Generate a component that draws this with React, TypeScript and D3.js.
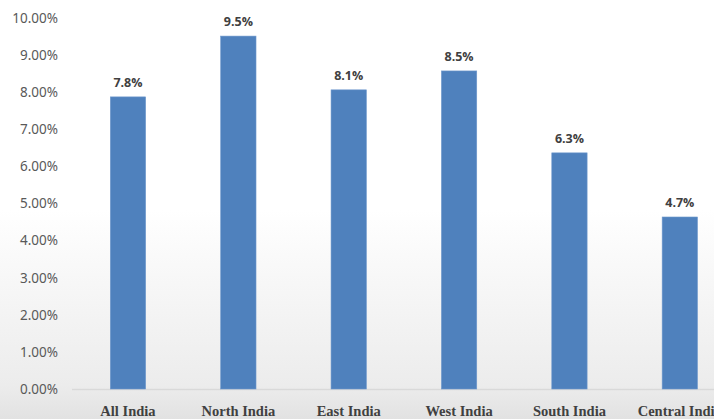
import React from "react";
import * as d3 from "d3";

const categories = ["All India", "North India", "East India", "West India", "South India", "Central India"];
const values = [7.88, 9.52, 8.07, 8.58, 6.37, 4.64];
const valueLabels = ["7.8%", "9.5%", "8.1%", "8.5%", "6.3%", "4.7%"];
const yTicks = [0, 1, 2, 3, 4, 5, 6, 7, 8, 9, 10];

const W = 714;
const H = 419;
const left = 72.8;
const plotRight = 735;
const top = 18.3;
const bottom = 389;

export default function App() {
  const x = d3.scaleBand<string>().domain(categories).range([left, plotRight]).paddingInner(0.68).paddingOuter(0.34);
  const y = d3.scaleLinear().domain([0, 10]).range([bottom, top]);
  return (
    <svg width={W} height={H} style={{ position: "absolute", left: 0, top: 0, display: "block" }}>
      <defs>
        <linearGradient id="bg" x1="0" y1="0" x2="0" y2="1">
          <stop offset="0" stopColor="#ffffff" />
          <stop offset="0.5" stopColor="#ffffff" />
          <stop offset="0.92" stopColor="#ececec" />
          <stop offset="1" stopColor="#e2e2e2" />
        </linearGradient>
      </defs>
      <rect x={0} y={0} width={W} height={H} fill="url(#bg)" />
      <line x1={left - 0.8} x2={W} y1={bottom + 0.5} y2={bottom + 0.5} stroke="#d9d9d9" strokeWidth={1.5} />
      {yTicks.map((t) => (
        <text key={t} x={58} y={y(t)} dy="0.35em" textAnchor="end" fontFamily="'Noto Sans', sans-serif" fontSize={13.5} fill="#595959">
          {t.toFixed(2) + "%"}
        </text>
      ))}
      {categories.map((c, i) => (
        <g key={c}>
          <rect x={x(c)} y={y(values[i])} width={x.bandwidth()} height={bottom - y(values[i])} fill="#4f81bd" stroke="#6f98cc" strokeWidth={0.6} />
          <text x={(x(c) as number) + x.bandwidth() / 2} y={y(values[i]) - 14} dy="0.35em" textAnchor="middle" fontFamily="'Open Sans', sans-serif" fontWeight="bold" fontSize={12.5} fill="#404040">
            {valueLabels[i]}
          </text>
          <text x={(x(c) as number) + x.bandwidth() / 2} y={416} textAnchor="middle" fontFamily="'Liberation Serif', serif" fontWeight="bold" fontSize={14.5} fill="#404040">
            {c}
          </text>
        </g>
      ))}
    </svg>
  );
}
